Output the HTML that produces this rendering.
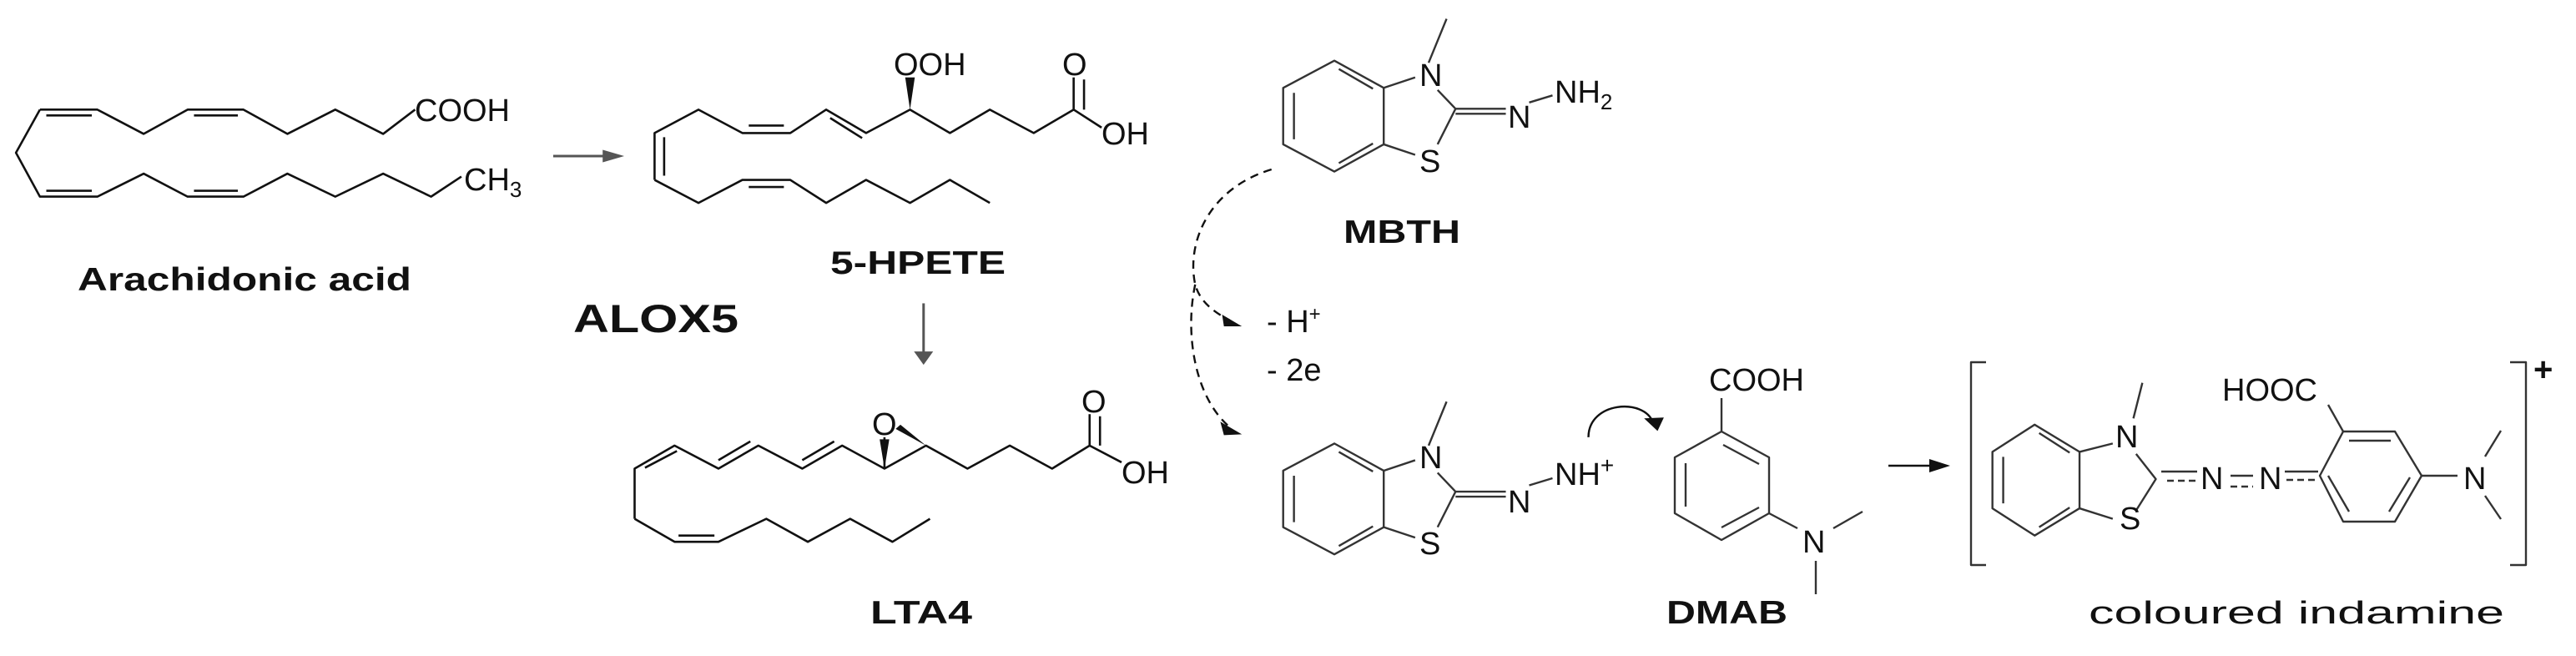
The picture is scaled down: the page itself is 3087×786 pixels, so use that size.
<!DOCTYPE html>
<html><head><meta charset="utf-8"><style>
html,body{margin:0;padding:0;background:#fff;}
svg{display:block;}
text{font-family:"Liberation Sans",Arial,sans-serif;fill:#111;}
.b{font-weight:bold;}
</style></head><body>
<svg width="3087" height="786" viewBox="0 0 3087 786" xmlns="http://www.w3.org/2000/svg">
<g transform="matrix(0.9566,0,0,0.5013,0,0)" fill="none" stroke="#111" stroke-width="2.6" stroke-linejoin="round">
 <path vector-effect="non-scaling-stroke" d="M50,262 L122,262 L180,320 L235,262 L305,262 L360,320 L420,262 L480,320 L520,262"/>
 <path vector-effect="non-scaling-stroke" d="M58,276 L115,276 M243,276 L298,276 M58,456 L115,456 M243,456 L298,456"/>
 <path vector-effect="non-scaling-stroke" d="M50,262 L20,365 L50,470 L122,470 L180,415 L235,470 L305,470 L360,415 L420,470 L480,415 L540,470 L578,422"/>
 <path vector-effect="non-scaling-stroke" d="M820,430 L820,318 L875,262 L930,318 L990,318 L1035,262 L1085,318 L1140,262 L1190,318 L1240,262 L1295,318 L1345,262 L1345,185 M1345,262 L1380,305"/>
 <path vector-effect="non-scaling-stroke" d="M832,328 L832,420 M938,300 L982,300 M1040,282 L1080,330 M1358,262 L1358,190"/>
 <path vector-effect="non-scaling-stroke" d="M820,430 L875,485 L930,430 L990,430 L1035,485 L1085,430 L1140,485 L1190,430 L1240,485"/>
 <path vector-effect="non-scaling-stroke" d="M938,447 L982,447"/>
 <path vector-effect="non-scaling-stroke" d="M795,1240 L795,1120 L845,1065 L900,1120 L950,1065 L1005,1120 L1055,1065 L1108,1120 L1160,1065 L1212,1120 L1265,1065 L1318,1120 L1365,1065 L1365,990 M1365,1065 L1405,1105"/>
 <path vector-effect="non-scaling-stroke" d="M808,1118 L848,1078 M900,1100 L940,1055 M1005,1100 L1045,1055 M1378,1065 L1378,995 M1108,1120 L1108,1045"/>
 <path vector-effect="non-scaling-stroke" d="M795,1240 L845,1295 L900,1295 L960,1240 L1012,1295 L1065,1240 L1118,1295 L1165,1240"/>
 <path vector-effect="non-scaling-stroke" d="M850,1280 L895,1280"/>
 <polygon points="1140,262 1134,185 1146,185" fill="#111" stroke="none"/>
 <polygon points="1108,1120 1102,1050 1114,1050" fill="#111" stroke="none"/>
 <polygon points="1160,1065 1122,1025 1128,1015" fill="#111" stroke="none"/>
 <path vector-effect="non-scaling-stroke" d="M693,373 L760,373" stroke="#555" stroke-width="3"/>
 <polygon points="755,358 782,373 755,388" fill="#555" stroke="none"/>
 <path vector-effect="non-scaling-stroke" d="M1157,725 L1157,845" stroke="#555" stroke-width="3"/>
 <polygon points="1145,840 1157,872 1169,840" fill="#555" stroke="none"/>
</g>

<g transform="matrix(1.0759,0,0,0.5013,1400,0)" fill="none" stroke="#333" stroke-width="2.4" stroke-linejoin="round">
 <path vector-effect="non-scaling-stroke" d="M128,210 L185,145 L240,210 L240,345 L185,410 L128,345 Z M140,222 L140,333 M190,165 L228,212 M190,390 L228,343"/>
 <path vector-effect="non-scaling-stroke" d="M240,210 L275,185 M300,215 L320,260 L300,345 M240,345 L275,370 M290,150 L310,45 M320,260 L376,260 M320,272 L376,272 M402,245 L428,228"/>
 <path vector-effect="non-scaling-stroke" d="M128,1125 L185,1060 L240,1125 L240,1260 L185,1325 L128,1260 Z M140,1137 L140,1248 M190,1080 L228,1127 M190,1305 L228,1258"/>
 <path vector-effect="non-scaling-stroke" d="M240,1125 L275,1100 M300,1130 L320,1175 L300,1260 M240,1260 L275,1285 M290,1065 L310,960 M320,1175 L376,1175 M320,1187 L376,1187 M402,1160 L428,1143"/>
 <path vector-effect="non-scaling-stroke" stroke="#111" stroke-dasharray="10,7" d="M115,405 C45,450 20,580 30,680 C35,720 50,745 68,765"/>
 <path vector-effect="non-scaling-stroke" stroke="#111" stroke-dasharray="10,7" d="M30,680 C18,800 30,950 68,1020"/>
 <polygon points="60,752 82,780 62,780" fill="#111" stroke="none"/>
 <polygon points="58,1008 82,1038 62,1040" fill="#111" stroke="none"/>
 <path vector-effect="non-scaling-stroke" stroke="#111" d="M468,1045 C468,960 530,950 540,1010"/>
 <polygon points="530,1000 545,1030 552,998" fill="#111" stroke="none"/>
 <path vector-effect="non-scaling-stroke" d="M918,1080 L965,1015 L1015,1080 L1015,1215 L965,1280 L918,1215 Z M930,1092 L930,1203 M970,1035 L1004,1082 M970,1260 L1004,1213"/>
 <path vector-effect="non-scaling-stroke" d="M1015,1080 L1052,1060 M1078,1085 L1100,1145 L1078,1220 M1015,1215 L1052,1240 M1075,1000 L1085,915"/>
</g>

<g fill="none" stroke="#333" stroke-width="2.4" stroke-linejoin="round">
 <path d="M2063,477 L2063,517"/>
 <path d="M2063,517 L2120,548 L2120,615 L2063,647 L2007,615 L2007,548 Z"/>
 <path d="M2065,533 L2108,556 M2020,555 L2020,607 M2063,632 L2108,608"/>
 <path d="M2120,615 L2154,633 M2197,633 L2232,613 M2176,672 L2176,712"/>
 <path d="M2263,558 L2315,558" stroke="#111"/>
 <polygon points="2312,550 2337,558 2312,566" fill="#111" stroke="none"/>
 <path d="M2380,434 L2362,434 L2362,677 L2380,677 M3008,434 L3027,434 L3027,677 L3008,677"/>
 <path d="M2590,565 L2633,565 M2673,570 L2700,570 M2738,565 L2778,565"/>
 <path d="M2597,576 L2633,576 M2673,583 L2700,583 M2740,575 L2778,575" stroke-dasharray="8,5"/>
 <path d="M2780,570 L2808,517 L2870,517 L2902,570 L2870,625 L2808,625 Z"/>
 <path d="M2815,528 L2865,528 M2790,570 L2815,613 M2863,613 L2888,572"/>
 <path d="M2790,485 L2808,517 M2902,570 L2945,570 M2978,547 L2997,516 M2978,594 L2997,622"/>
</g>

<text x="497" y="145" font-size="38">COOH</text>
<text x="556" y="228" font-size="38">CH<tspan font-size="26" dy="8">3</tspan></text>
<text x="93" y="348" font-size="39" class="b" textLength="400" lengthAdjust="spacingAndGlyphs">Arachidonic acid</text>
<text x="1071" y="90" font-size="38">OOH</text>
<text x="1273" y="90" font-size="38">O</text>
<text x="1320" y="173" font-size="38">OH</text>
<text x="995" y="328" font-size="39" class="b" textLength="210" lengthAdjust="spacingAndGlyphs">5-HPETE</text>
<text x="687" y="398" font-size="47" class="b" textLength="198" lengthAdjust="spacingAndGlyphs">ALOX5</text>
<text x="1045" y="521" font-size="38">O</text>
<text x="1296" y="494" font-size="38">O</text>
<text x="1344" y="579" font-size="38">OH</text>
<text x="1043" y="747" font-size="39" class="b" textLength="122" lengthAdjust="spacingAndGlyphs">LTA4</text>

<text x="1701" y="103" font-size="38">N</text>
<text x="1863" y="123" font-size="38">NH<tspan font-size="26" dy="8">2</tspan></text>
<text x="1807" y="153" font-size="38">N</text>
<text x="1701" y="206" font-size="38">S</text>
<text x="1610" y="291" font-size="39" class="b" textLength="140" lengthAdjust="spacingAndGlyphs">MBTH</text>
<text x="1518" y="398" font-size="38">- H<tspan font-size="24" dy="-14">+</tspan></text>
<text x="1518" y="456" font-size="38">- 2e</text>
<text x="1701" y="561" font-size="38">N</text>
<text x="1863" y="581" font-size="38">NH<tspan font-size="28" dy="-14">+</tspan></text>
<text x="1807" y="614" font-size="38">N</text>
<text x="1701" y="664" font-size="38">S</text>
<text x="2048" y="468" font-size="38">COOH</text>
<text x="2160" y="662" font-size="38">N</text>
<text x="1997" y="747" font-size="39" class="b" textLength="145" lengthAdjust="spacingAndGlyphs">DMAB</text>
<text x="2535" y="536" font-size="38">N</text>
<text x="2663" y="480" font-size="38">HOOC</text>
<text x="2637" y="586" font-size="38">N</text>
<text x="2707" y="586" font-size="38">N</text>
<text x="2540" y="634" font-size="38">S</text>
<text x="2952" y="586" font-size="38">N</text>
<text x="3036" y="456" font-size="40" class="b">+</text>
<text x="2503" y="747" font-size="38" textLength="498" lengthAdjust="spacingAndGlyphs">coloured indamine</text>
</svg>
</body></html>
